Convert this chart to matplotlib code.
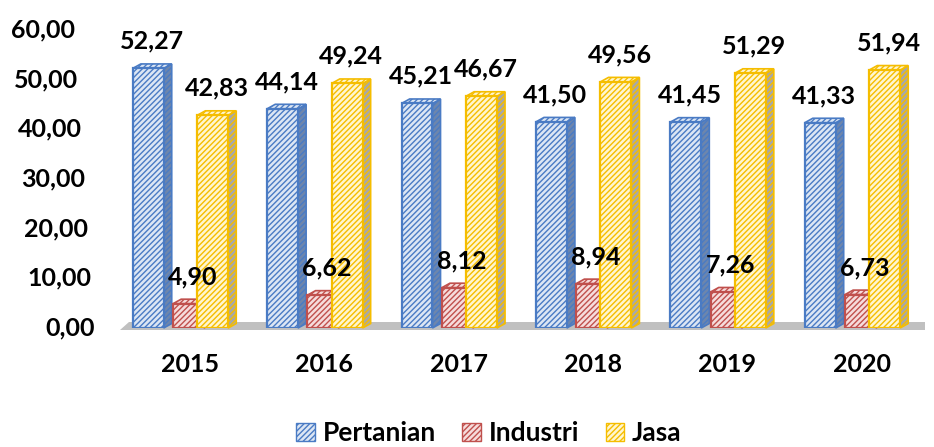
import numpy as np
import matplotlib.pyplot as plt
from matplotlib.patches import Polygon, Patch
from matplotlib.transforms import blended_transform_factory

plt.rcParams['font.family'] = ['Lato', 'DejaVu Sans']
plt.rcParams['hatch.linewidth'] = 1.0

years = ['2015', '2016', '2017', '2018', '2019', '2020']
pertanian = [52.27, 44.14, 45.21, 41.50, 41.45, 41.33]
industri = [4.90, 6.62, 8.12, 8.94, 7.26, 6.73]
jasa = [42.83, 49.24, 46.67, 49.56, 51.29, 51.94]
series = [('Pertanian', pertanian), ('Industri', industri), ('Jasa', jasa)]
yticks = [0, 10, 20, 30, 40, 50, 60]

# face colour, edge/hatch colour, side colour
styles = {
    'Pertanian': ('#dce6f4', '#4a7bc4', '#6d86ad'),
    'Industri': ('#f6dcdc', '#c0504d', '#b07070'),
    'Jasa': ('#fff6d0', '#f5bd00', '#a8a8a8'),
}
offsets = [-0.31, -0.01, 0.17]
width = 0.23
dx, dy = 0.06, 0.9  # fake 3D depth

fig = plt.figure(figsize=(9.34, 4.47), dpi=100)
ax = fig.add_axes([120 / 934, 119 / 447, 805 / 934, 298 / 447])
ax.set_xlim(-0.52, 5.47)
ax.set_ylim(0, 60)
ax.axis('off')

x = np.arange(len(years))

# floor
floor = Polygon([(-0.52, -0.4), (5.47, -0.4), (5.47, 1.2), (-0.45, 1.2)],
                closed=True, facecolor='#c0c0c0', edgecolor='none', clip_on=False, zorder=0)
ax.add_patch(floor)

for (name, vals), off in zip(series, offsets):
    fc, ec, sc = styles[name]
    for xi, v in zip(x, vals):
        left = xi + off - width / 2
        right = xi + off + width / 2
        # side face
        ax.add_patch(Polygon([(right, 0), (right + dx, dy), (right + dx, v + dy), (right, v)],
                             closed=True, facecolor=sc, edgecolor=ec, hatch='//////',
                             linewidth=1.2, zorder=2, clip_on=False))
        # top face
        ax.add_patch(Polygon([(left, v), (left + dx, v + dy), (right + dx, v + dy), (right, v)],
                             closed=True, facecolor=fc, edgecolor=ec, hatch='//////',
                             linewidth=1.2, zorder=2, clip_on=False))
        ax.bar(xi + off, v, width, color=fc, edgecolor=ec, hatch='//////',
               linewidth=1.6, zorder=3)
        ax.annotate(f'{v:.2f}'.replace('.', ','), (xi + off + dx / 2, v + dy),
                    xytext=(0, 8), textcoords='offset points', ha='center', va='bottom',
                    fontsize=18, fontweight='bold', zorder=5, annotation_clip=False)

# y tick labels, shifted like the 3D original
ytrans = blended_transform_factory(fig.transFigure, ax.transData)
for t in yticks:
    xpix = 95 - t / 60 * 20
    ax.text(xpix / 934, t, f'{t:.2f}'.replace('.', ','), transform=ytrans,
            ha='right', va='center', fontsize=18, fontweight='bold')

# category labels
xtrans = blended_transform_factory(ax.transData, fig.transFigure)
for xi, yr in zip(x, years):
    ax.text(xi, 1 - 365 / 447, yr, transform=xtrans,
            ha='center', va='center', fontsize=18, fontweight='bold')

handles = [Patch(facecolor=styles[n][0], edgecolor=styles[n][1], hatch='//////', label=n)
           for n, _ in series]
fig.legend(handles=handles, loc='center', bbox_to_anchor=(489 / 934, 1 - 433 / 447), ncol=3,
           frameon=False, prop={'size': 19, 'weight': 'bold'}, handlelength=0.7, handleheight=0.7,
           handletextpad=0.3, columnspacing=1.0, borderpad=0)

fig.savefig('out.png', dpi=100)
